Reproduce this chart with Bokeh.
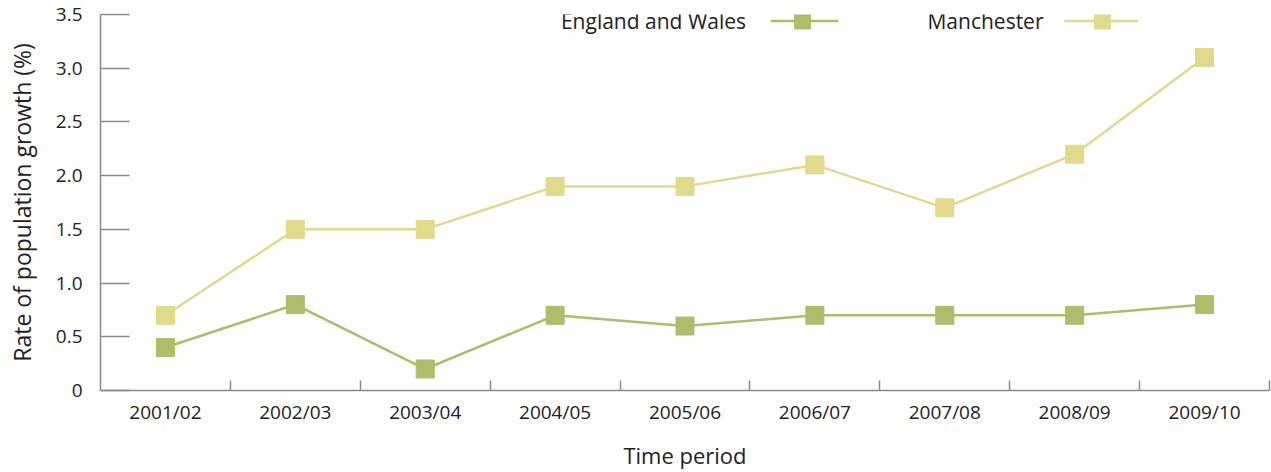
from bokeh.plotting import figure
from bokeh.models import Range1d, FixedTicker, ColumnDataSource
from bokeh.core.properties import value
from bokeh.embed import file_html
from bokeh.resources import INLINE

periods = ["2001/02", "2002/03", "2003/04", "2004/05", "2005/06",
           "2006/07", "2007/08", "2008/09", "2009/10"]
england_wales = [0.4, 0.8, 0.2, 0.7, 0.6, 0.7, 0.7, 0.7, 0.8]
manchester = [0.7, 1.5, 1.5, 1.9, 1.9, 2.1, 1.7, 2.2, 3.1]
y_ticks = [0, 0.5, 1.0, 1.5, 2.0, 2.5, 3.0, 3.5]

EW_COLOR = "#adbd69"
MAN_COLOR = "#dfdb8b"
AXIS_COLOR = "#8a8a8a"
TEXT_COLOR = "#222222"
FONT = "Open Sans"

n = len(periods)
# each period occupies one unit slot; points sit in the middle of their slot
centers = [i + 0.5 for i in range(n)]
bounds = list(range(1, n + 1))

p = figure(width=1271, height=472, x_range=Range1d(0, n),
           y_range=Range1d(0, 3.5), output_backend="svg", toolbar_location=None,
           min_border_left=100, min_border_right=2, min_border_top=14,
           min_border_bottom=82)
p.outline_line_color = None
p.xgrid.visible = False
p.ygrid.visible = False
p.background_fill_color = "white"

src = ColumnDataSource(dict(x=centers, ew=england_wales, man=manchester))

p.line("x", "man", source=src, color=MAN_COLOR, line_width=2.5)
p.scatter("x", "man", source=src, marker="square", size=18,
          fill_color=MAN_COLOR, line_color=MAN_COLOR)
p.line("x", "ew", source=src, color=EW_COLOR, line_width=2.5)
p.scatter("x", "ew", source=src, marker="square", size=18,
          fill_color=EW_COLOR, line_color=EW_COLOR)

# legend: label on the left, line with square marker on the right
legend_y = 3.44
p.text(x=[4.97, 7.26], y=[legend_y, legend_y], text=["England and Wales", "Manchester"],
       text_align="right", text_baseline="middle", text_font=value(FONT),
       text_font_size="21px", text_color=TEXT_COLOR)
p.segment(x0=[5.16], y0=[legend_y], x1=[5.68], y1=[legend_y], color=EW_COLOR, line_width=2.5)
p.scatter(x=[5.405], y=[legend_y], marker="square", size=16, color=EW_COLOR)
p.segment(x0=[7.42], y0=[legend_y], x1=[7.99], y1=[legend_y], color=MAN_COLOR, line_width=2.5)
p.scatter(x=[7.714], y=[legend_y], marker="square", size=16, color=MAN_COLOR)

# x axis: period labels under each slot, short inward ticks on slot boundaries
xa = p.xaxis[0]
xa.ticker = FixedTicker(ticks=centers, minor_ticks=bounds)
xa.major_label_overrides = {c: lab for c, lab in zip(centers, periods)}
xa.axis_line_color = AXIS_COLOR
xa.axis_line_width = 1.5
xa.major_tick_line_color = None
xa.major_tick_in = 0
xa.major_tick_out = 0
xa.minor_tick_line_color = AXIS_COLOR
xa.minor_tick_line_width = 1.5
xa.minor_tick_in = 10
xa.minor_tick_out = 0
xa.major_label_standoff = 8
xa.major_label_text_font = FONT
xa.major_label_text_font_size = "19px"
xa.major_label_text_color = TEXT_COLOR
xa.axis_label = "Time period"
xa.axis_label_text_font = FONT
xa.axis_label_text_font_size = "22px"
xa.axis_label_text_font_style = "normal"
xa.axis_label_text_color = TEXT_COLOR
xa.axis_label_standoff = 12

# y axis
ya = p.yaxis[0]
ya.ticker = FixedTicker(ticks=y_ticks)
ya.major_label_overrides = {0: "0", 0.5: "0.5", 1.0: "1.0", 1.5: "1.5", 2.0: "2.0",
                            2.5: "2.5", 3.0: "3.0", 3.5: "3.5"}
ya.axis_line_color = AXIS_COLOR
ya.axis_line_width = 1.5
ya.major_tick_line_color = AXIS_COLOR
ya.major_tick_line_width = 1.5
ya.major_tick_in = 29
ya.major_tick_out = 0
ya.minor_tick_line_color = None
ya.major_label_standoff = 18
ya.major_label_text_font = FONT
ya.major_label_text_font_size = "19px"
ya.major_label_text_color = TEXT_COLOR
ya.axis_label = "Rate of population growth (%)"
ya.axis_label_text_font = FONT
ya.axis_label_text_font_size = "23px"
ya.axis_label_text_font_style = "normal"
ya.axis_label_text_color = TEXT_COLOR
ya.axis_label_standoff = 15

open("out.html", "w").write(file_html(p, INLINE))
